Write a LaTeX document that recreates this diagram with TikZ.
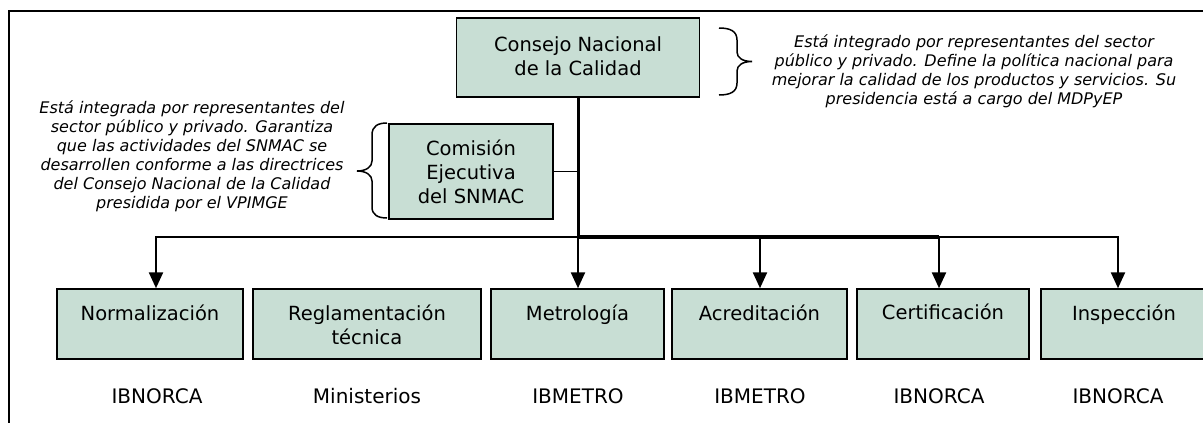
\documentclass[tikz,border=0pt]{standalone}
\usepackage{fontspec}
\setmainfont{DejaVu Sans}
\usetikzlibrary{arrows.meta,calc}
\definecolor{boxfill}{RGB}{200,222,212}
\begin{document}
\begin{tikzpicture}[x=1pt,y=-1pt,
  box/.style={draw=black,line width=1.5pt,fill=boxfill,inner sep=0pt,minimum height=70pt},
  btxt/.style={font=\fontsize{19.5}{24}\selectfont,align=center,inner sep=0pt},
  stxt/.style={font=\fontsize{19.5}{24}\selectfont,inner sep=0pt,anchor=base},
  note/.style={font=\fontsize{16}{19}\selectfont\itshape,align=center,inner sep=0pt},
  lbl/.style={font=\fontsize{20}{24}\selectfont,inner sep=0pt,anchor=base},
  arr/.style={line width=2.4pt,line join=miter,-{Triangle[length=16pt,width=14pt]}},
  trunk/.style={line width=3pt},
  thin/.style={line width=1.6pt},
  buswide/.style={line width=3.2pt},
  brace/.style={line width=1.5pt},
  frame/.style={line width=2pt}
]
\useasboundingbox (0,0) rectangle (1203,423);
\draw[frame] (9,430) -- (9,11) -- (1215,11);

% top boxes
\node[box,minimum width=243pt,minimum height=79pt] (cnc) at (578,57.5) {};
\node[btxt] (cnct) at (578,56) {Consejo Nacional\\de la Calidad};
\node[box,minimum width=164pt,minimum height=95pt] (com) at (471,171.5) {};
\node[btxt] (comt) at (471,172) {Comisión\\Ejecutiva\\del SNMAC};

% notes
\node[note] (noteR) at (974,71) {Está integrado por representantes del sector\\público y privado. Define la política nacional para\\mejorar la calidad de los productos y servicios. Su\\presidencia está a cargo del MDPyEP};
\node[note] (noteL) at (192,156) {Está integrada por representantes del\\sector público y privado. Garantiza\\que las actividades del SNMAC se\\desarrollen conforme a las directrices\\del Consejo Nacional de la Calidad\\presidida por el VPIMGE};

% braces
\draw[brace] (719,28) .. controls (730,28) and (737,31) .. (737,40) -- (737,52)
  .. controls (737,58) and (743,61.5) .. (752,61.5)
  .. controls (743,61.5) and (737,65) .. (737,71) -- (737,83)
  .. controls (737,92) and (730,95) .. (719,95);
\draw[brace] (387,123) .. controls (378,123) and (372,126) .. (372,135) -- (372,161)
  .. controls (372,167) and (366,171) .. (357,171)
  .. controls (366,171) and (372,175) .. (372,181) -- (372,207)
  .. controls (372,215) and (378,218) .. (387,218);

% bottom boxes
\node[box,minimum width=186pt] (norm) at (150,324) {};
\node[box,minimum width=228pt] (regl) at (367,324) {};
\node[box,minimum width=173pt] (metr) at (577.5,324) {};
\node[box,minimum width=175pt] (acre) at (759.5,324) {};
\node[box,minimum width=172pt] (cert) at (943,324) {};
\node[box,minimum width=166pt] (insp) at (1124,324) {};

\node[stxt] (normt) at (150,320) {Normalización};
\node[stxt] (reglt1) at (367,320) {Reglamentación};
\node[stxt] (reglt2) at (367,344) {técnica};
\node[stxt] (metrt) at (577.5,320) {Metrología};
\node[stxt] (acret) at (759.5,320) {Acreditación};
\node[stxt] (certt) at (943,319) {Certificación};
\node[stxt] (inspt) at (1124,320) {Inspección};

\node[lbl] (l1) at (157,403) {IBNORCA};
\node[lbl] (l2) at (367,403) {Ministerios};
\node[lbl] (l3) at (578,403) {IBMETRO};
\node[lbl] (l4) at (760,403) {IBMETRO};
\node[lbl] (l5) at (939,403) {IBNORCA};
\node[lbl] (l6) at (1118,403) {IBNORCA};

% bus coordinates
\coordinate (j) at (578,237);
\coordinate (bL) at (156,237);
\coordinate (bA) at (760,237);
\coordinate (bC) at (939,237);
\coordinate (bR) at (1118,237);

% connectors
\draw[trunk] (cnc.south) -- (j);
\draw[thin] (com.east) -- (com.east -| j);
\draw[buswide] (j) -- (bC);
\draw[arr] (j) -- (bL) -- (bL |- norm.north);
\draw[arr] (bC) -- (bR) -- (bR |- insp.north);
\draw[arr] (j) -- (j |- metr.north);
\draw[arr] (bA) -- (bA |- acre.north);
\draw[arr] (bC) -- (bC |- cert.north);
\end{tikzpicture}
\end{document}
